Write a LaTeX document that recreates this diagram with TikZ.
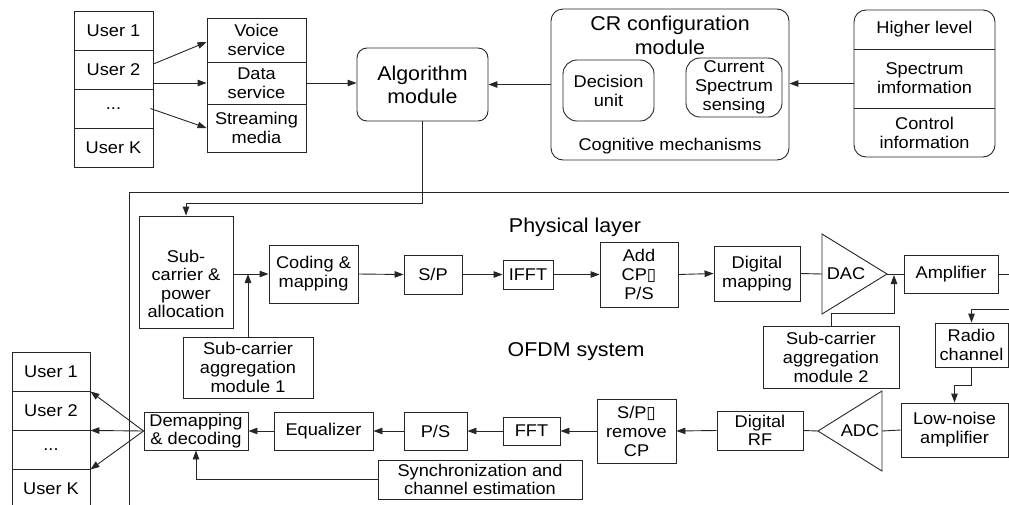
\documentclass[tikz,border=0pt]{standalone}
\usepackage{fontspec}
\setmainfont{Liberation Sans}[FakeStretch=1.07]
\newfontfamily\tofufont{DejaVu Sans}
\newcommand\tofu{{\tofufont ▯}}
\newcommand\fsmall{\fontsize{17}{19}\selectfont}
\newcommand\fsmalltight{\fontsize{17}{18}\selectfont}
\newcommand\flarge{\fontsize{20}{23}\selectfont}
\usetikzlibrary{arrows.meta}
\begin{document}
\begin{tikzpicture}[x=1pt,y=-1pt,
  box/.style={draw=black!85, line width=0.9pt, inner sep=0pt, align=center, font=\fsmall},
  txt/.style={inner sep=0pt, align=center, font=\fsmall},
  lbl/.style={inner sep=0pt, align=center, font=\flarge},
  conn/.style={draw=black!85, line width=0.9pt},
  arr/.style={conn, -{Triangle[length=9pt,width=6.5pt]}}]
\useasboundingbox (0,0) rectangle (1009,504);

% ---- top-left users
\node[box,minimum width=79,minimum height=39] (u1) at (113.5,30.5) {User 1};
\node[box,minimum width=79,minimum height=39] (u2) at (113.5,69.5) {User 2};
\node[box,minimum width=79,minimum height=39] (u3) at (113.5,108.5) {...};
\node[box,minimum width=79,minimum height=39] (u4) at (113.5,147.5) {User K};

% ---- services
\node[box,minimum width=99,minimum height=44] (sv) at (256.5,40) {Voice\\service};
\node[box,minimum width=99,minimum height=42] (ds) at (256.5,83) {Data\\service};
\node[box,minimum width=99,minimum height=48] (sm) at (256.5,128) {Streaming\\media};

% ---- algorithm module
\node[box,rounded corners=10pt,minimum width=131,minimum height=73,font=\flarge] (alg) at (422.5,84.5) {Algorithm\\module};

% ---- CR configuration module
\node[box,rounded corners=12pt,minimum width=238,minimum height=151] (cr) at (670,84.5) {};
\node[lbl,font=\fontsize{20}{24}\selectfont] (crt) at (670,35) {CR configuration\\module};
\node[txt] (crc) at (670,146) {Cognitive mechanisms};
\node[box,rounded corners=14pt,minimum width=91,minimum height=61] (du) at (608.5,90.5) {Decision\\unit};
\node[box,rounded corners=14pt,minimum width=96,minimum height=59] (css) at (734,87.5) {Current\\Spectrum\\sensing};

% ---- higher level
\node[box,rounded corners=12pt,minimum width=141,minimum height=147] (hl) at (924.5,83.5) {};
\node[txt] (hl1) at (924.5,29.5) {Higher level};
\node[txt] (hl2) at (924.5,78.5) {Spectrum\\imformation};
\node[txt] (hl3) at (924.5,132.5) {Control\\information};
\draw[conn] (hl.west |- 0,49) -- (hl.east |- 0,49);
\draw[conn] (hl.west |- 0,108) -- (hl.east |- 0,108);

% ---- frame
\draw[conn] (1015,192) -- (129,192) -- (129,510);

% ---- labels
\node[lbl] (phy) at (575,227) {Physical layer};
\node[lbl] (ofdm) at (576,352) {OFDM system};

% ---- transmitter chain
\node[box,minimum width=94,minimum height=112] (sc) at (186,272) {};
\node[txt,font=\fontsize{17}{18.5}\selectfont] (sct) at (186,284) {Sub-\\carrier \&\\power\\allocation};
\node[box,minimum width=89,minimum height=58] (cm) at (313.5,274) {Coding \&\\mapping};
\node[box,minimum width=130,minimum height=61] (ag1) at (248,367.5) {Sub-carrier\\aggregation\\module 1};
\node[box,minimum width=58,minimum height=39] (sp) at (433,274.5) {S/P};
\node[box,minimum width=50,minimum height=29] (ifft) at (528,274.5) {IFFT};
\node[box,minimum width=78,minimum height=65] (acp) at (639,274.5) {Add\\CP\tofu\\P/S};
\node[box,minimum width=86,minimum height=55] (dm) at (757,273.5) {Digital\\mapping};
\coordinate (dacL) at (822,274);
\coordinate (dacT) at (887,274);
\draw[conn] (822,234) -- (dacT) -- (822,314) -- cycle;
\node[txt] (dac) at (846,274) {DAC};
\node[box,minimum width=94,minimum height=38] (amp) at (951,274) {Amplifier};
\coordinate (redge0) at (1012,274);
\coordinate (j2) at (894,275);
\node[box,minimum width=136,minimum height=62] (ag2) at (831,357) {Sub-carrier\\aggregation\\module 2};
\coordinate (redge1) at (1012,309);
\node[box,minimum width=73,minimum height=44] (rc) at (971.5,345) {Radio\\channel};
\node[box,minimum width=107,minimum height=54] (lna) at (954.5,430) {Low-noise\\amplifier};

% ---- receiver chain
\coordinate (adcL) at (818,431);
\coordinate (adcR) at (882,431);
\draw[conn] (882,391) -- (adcL) -- (882,471) -- cycle;
\node[txt] (adc) at (860,431) {ADC};
\node[box,minimum width=86,minimum height=39,font=\fsmalltight] (drf) at (760,430.5) {Digital\\RF};
\node[box,minimum width=79,minimum height=64] (spr) at (636.5,431) {S/P\tofu\\remove\\CP};
\node[box,minimum width=57,minimum height=28] (fft) at (531.5,431) {FFT};
\node[box,minimum width=63,minimum height=38] (ps) at (435.5,431) {P/S};
\node[box,minimum width=99,minimum height=38] (eq) at (323.5,431) {Equalizer};
\node[box,minimum width=104,minimum height=38,font=\fsmalltight] (dd) at (196,431) {Demapping\\\& decoding};
\node[box,minimum width=204,minimum height=39,font=\fsmalltight] (sync) at (480,479.5) {Synchronization and\\channel estimation};

% ---- bottom-left users
\node[box,minimum width=78,minimum height=39] (ub1) at (51,371.5) {User 1};
\node[box,minimum width=78,minimum height=39] (ub2) at (51,410.5) {User 2};
\node[box,minimum width=78,minimum height=39] (ub3) at (51,449.5) {...};
\node[box,minimum width=78,minimum height=39] (ub4) at (51,488.5) {User K};

% ---- connectors (top)
\draw[arr] ([yshift=5.5pt]u2.east) -- ([yshift=-2pt]sv.west);
\draw[arr] ([yshift=-13.5pt]u2.east) -- (ds.west);
\draw[arr] ([xshift=-3pt]u3.east) -- (sm.west);
\draw[arr] (ds.east) -- (ds.east -| alg.west);
\draw[arr] (cr.west) -- (alg.east);
\draw[arr] (hl.west) -- (hl.west -| cr.east);
\draw[arr] (alg.south) -- ++(0,82) -| (sc.north);

% ---- connectors (transmitter)
\draw[arr] (sc.east |- cm.west) -- (cm.west);
\draw[arr] (ag1.north) -- (ag1.north |- cm.west);
\draw[arr] (cm.east) -- (sp.west);
\draw[arr] (sp.east) -- (ifft.west);
\draw[arr] (ifft.east) -- (acp.west);
\draw[arr] (acp.east) -- (dm.west);
\draw[conn] (dm.east) -- (dacL);
\draw[conn] (dacT) -- (amp.west);
\draw[conn] (amp.east) -- (redge0);
\draw[arr] (ag2.north) -- ++(0,-12) -| (j2);
\draw[arr] (redge1) -| (rc.north);
\draw[arr] (rc.south) -- ++(0,18) -| (lna.north);

% ---- connectors (receiver)
\draw[conn] (lna.west) -- (adcR);
\draw[conn] (adcL) -- (drf.east);
\draw[arr] (drf.west) -- (spr.east);
\draw[arr] (spr.west) -- (fft.east);
\draw[arr] (fft.west) -- (ps.east);
\draw[arr] (ps.west) -- (eq.east);
\draw[arr] (eq.west) -- (dd.east);
\draw[arr] (sync.west) -| (dd.south);
\draw[arr] (dd.west) -- (ub1.south east);
\draw[arr] (dd.west) -- (ub2.south east);
\draw[arr] (dd.west) -- (ub3.south east);
\end{tikzpicture}
\end{document}
